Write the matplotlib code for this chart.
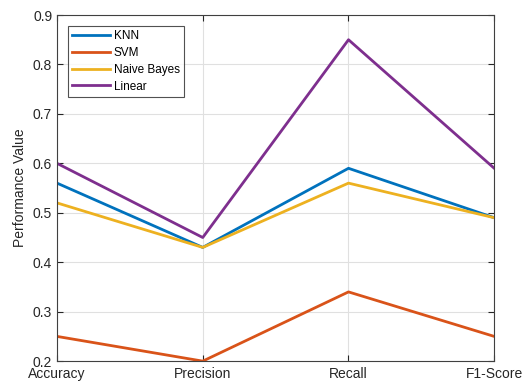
import matplotlib
matplotlib.use("Agg")
import matplotlib.pyplot as plt

metrics = ["Accuracy", "Precision", "Recall", "F1-Score"]
knn = [0.56, 0.43, 0.59, 0.49]
svm = [0.25, 0.20, 0.34, 0.25]
naive_bayes = [0.52, 0.43, 0.56, 0.49]
linear = [0.60, 0.45, 0.85, 0.59]

series = [
    ("KNN", knn, "#0072BD"),
    ("SVM", svm, "#D95319"),
    ("Naive Bayes", naive_bayes, "#EDB120"),
    ("Linear", linear, "#7E2F8E"),
]

plt.rcParams['font.family'] = ['Liberation Sans', 'DejaVu Sans']

fig = plt.figure(figsize=(5.23, 3.85), dpi=100)
ax = fig.add_axes([0.109, 0.062, 0.836, 0.899])

x = list(range(len(metrics)))
for name, vals, color in series:
    ax.plot(x, vals, color=color, linewidth=2, label=name)

ax.set_xlim(0, len(metrics) - 1)
ax.set_ylim(0.2, 0.9)
ax.set_xticks(x)
ax.set_xticklabels(metrics, fontsize=10)
ax.set_yticks([0.2, 0.3, 0.4, 0.5, 0.6, 0.7, 0.8, 0.9])
ax.tick_params(axis='y', labelsize=10, colors='#262626', direction='in', right=True, length=4)
ax.tick_params(axis='x', colors='#262626', direction='in', top=True, length=4, pad=4)
ax.grid(True, color='#e0e0e0', linewidth=0.8)
ax.set_axisbelow(True)
for sp in ax.spines.values():
    sp.set_color('#404040')
    sp.set_linewidth(0.8)
ax.set_ylabel("Performance Value", fontsize=10, color='#262626')

leg = ax.legend(loc='upper left', fontsize=8.5, frameon=True, fancybox=False,
                edgecolor='#262626', handlelength=3.2, borderaxespad=0.9,
                labelspacing=0.4, handletextpad=0.3, borderpad=0.4)
leg.get_frame().set_linewidth(0.8)

fig.savefig("out.png", dpi=100)
